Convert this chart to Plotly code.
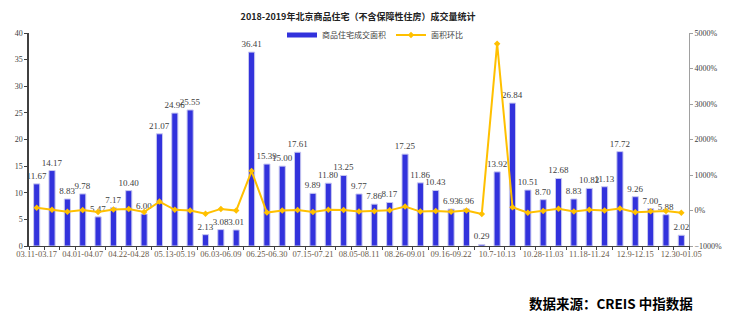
import plotly.graph_objects as go

week_labels = ["03.11-03.17", "04.01-04.07", "04.22-04.28", "05.13-05.19", "06.03-06.09",
               "06.25-06.30", "07.15-07.21", "08.05-08.11", "08.26-09.01", "09.16-09.22",
               "10.7-10.13", "10.28-11.03", "11.18-11.24", "12.9-12.15", "12.30-01.05"]

area = [11.67, 14.17, 8.83, 9.78, 5.47, 7.17, 10.40, 6.00, 21.07, 24.96, 25.55, 2.13, 3.08,
        3.01, 36.41, 15.39, 15.00, 17.61, 9.89, 11.80, 13.25, 9.77, 7.86, 8.17, 17.25, 11.86,
        10.43, 6.93, 6.96, 0.29, 13.92, 26.84, 10.51, 8.70, 12.68, 8.83, 10.82, 11.13, 17.72,
        9.26, 7.00, 5.88, 2.02]

mom_pct = [75, 21, -38, 11, -44, 31, 45, -42, 251, 18, 2, -92, 45, -2, 1110, -58, -3, 17,
           -44, 19, 12, -26, -20, 4, 111, -31, -12, -34, 0, -96, 4700, 93, -61, -17, 46, -30,
           23, 3, 59, -48, -24, -16, -66]

n = len(area)
xs = list(range(n))
label_pos = xs[::3]

serif = "Liberation Serif, Noto Sans CJK SC"
cjk = "Noto Sans CJK SC"
BAR = "#3232DC"
LINE = "#FFC000"

fig = go.Figure()
fig.add_trace(go.Bar(
    x=xs, y=area, name="商品住宅成交面积", showlegend=False,
    marker=dict(color=BAR, line=dict(color="#C8C8F0", width=1)),
    text=[f"{v:.2f}" for v in area], textposition="outside", constraintext="none",
    textfont=dict(family=serif, size=9, color="#404040"),
    cliponaxis=False, hoverinfo="skip",
))
fig.add_trace(go.Scatter(
    x=xs, y=mom_pct, name="面积环比", yaxis="y2", mode="lines+markers", showlegend=False,
    line=dict(color=LINE, width=2),
    marker=dict(symbol="diamond", size=5, color=LINE),
    hoverinfo="skip",
))
# legend entries
fig.add_trace(go.Scatter(x=[None], y=[None], name="商品住宅成交面积", mode="lines",
                         line=dict(color=BAR, width=5)))
fig.add_trace(go.Scatter(x=[None], y=[None], name="面积环比", mode="lines+markers", yaxis="y2",
                         line=dict(color=LINE, width=2),
                         marker=dict(symbol="diamond", size=5, color=LINE)))

fig.update_layout(
    width=733, height=329,
    margin=dict(l=29, r=44, t=33, b=83),
    paper_bgcolor="white", plot_bgcolor="white",
    bargap=0.6,
    showlegend=True,
    title=dict(text="<b>2018-2019年北京商品住宅（不含保障性住房）成交量统计</b>",
               x=358/733, xanchor="center", y=1 - 17/329, yanchor="middle",
               font=dict(family=cjk, size=9, color="#222222")),
    legend=dict(orientation="h", x=(282-29)/660, xanchor="left", y=1 - 2/213, yanchor="middle",
                font=dict(family=cjk, size=8, color="#404040"), bgcolor="rgba(0,0,0,0)",
                tracegroupgap=0),
    xaxis=dict(range=[-0.5, n - 0.5], tickvals=label_pos, ticktext=week_labels,
               tickangle=0, ticks="", showgrid=False, zeroline=False,
               showline=True, linecolor="#404040", linewidth=1,
               tickfont=dict(family=serif, size=8.5, color="#6a5a4a"),
               minor=dict(tick0=-0.5, dtick=1, ticks="outside", ticklen=3, tickcolor="#404040")),
    yaxis=dict(range=[0, 40], dtick=5, showgrid=False, zeroline=False,
               showline=True, linecolor="#404040", linewidth=1.5,
               ticks="outside", ticklen=3, tickcolor="#404040",
               tickfont=dict(family=serif, size=8, color="#404040")),
    yaxis2=dict(range=[-1000, 5000], dtick=1000, overlaying="y", side="right",
                ticksuffix="%", showgrid=False, zeroline=False,
                showline=True, linecolor="#A0A0A0", linewidth=1,
                ticks="outside", ticklen=3, tickcolor="#A0A0A0",
                tickfont=dict(family=serif, size=8, color="#404040")),
    annotations=[dict(text="<b>数据来源：CREIS 中指数据</b>", xref="paper", yref="paper",
                      x=(695-29)/660, xanchor="right", y=(246-303)/213, yanchor="middle",
                      showarrow=False, font=dict(family=cjk, size=13.5, color="#000000"))],
)

fig.write_html("out.html")
